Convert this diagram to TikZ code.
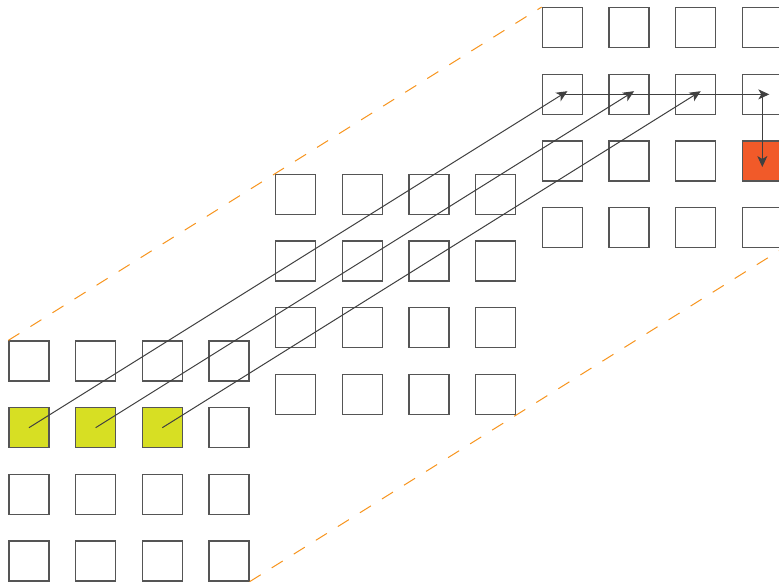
\documentclass[tikz,border=0pt]{standalone}
\usetikzlibrary{arrows.meta}
\definecolor{CellGray}{RGB}{85,85,85}
\definecolor{ArrowGray}{RGB}{64,64,64}
\definecolor{KernelLime}{RGB}{215,223,35}
\definecolor{OutOrange}{RGB}{241,90,41}
\definecolor{GuideOrange}{RGB}{247,148,29}

\begin{document}
\begin{tikzpicture}[
				x=1pt,y=-1pt,
				cell/.style={
					draw=CellGray,
					line width=1.3pt,
					minimum size=40pt,
					inner sep=0pt
				},
				paint I-1-0/.style={fill=KernelLime},
				paint I-1-1/.style={fill=KernelLime},
				paint I-1-2/.style={fill=KernelLime},
				paint O-2-3/.style={fill=OutOrange},
				guide/.style={
					draw=GuideOrange,
					line width=1pt,
					dash pattern=on 13pt off 13pt
				},
				link/.style={
					draw=ArrowGray,
					line width=1pt,
					-{Stealth[length=11pt,width=10pt,inset=3pt]},
					shorten >=-6pt
				}
				]
				
				\useasboundingbox (0,0) rectangle (779,585);
				
				% input, hidden and output grids
				\foreach \r in {0,...,3}
				\foreach \c in {0,...,3}
				{
					\node[cell, paint I-\r-\c/.try] (I-\r-\c) at (29+66.67*\c, 361+66.67*\r) {};
					\node[cell, paint H-\r-\c/.try] (H-\r-\c) at (295.7+66.67*\c, 194.3+66.67*\r) {};
					\node[cell, paint O-\r-\c/.try] (O-\r-\c) at (562.3+66.67*\c, 27.7+66.67*\r) {};
				}
				
				\draw[guide] (I-0-0.north west) -- (O-0-0.north west);
				\draw[guide] (I-3-3.south east) -- (O-3-3.south east);
				
				\foreach \c in {0,1,2}
				\draw[link] (I-1-\c.center) -- (O-1-\c.center);
				
				\draw[link, shorten >=-7pt] (O-1-0.center) -- (O-1-3.center);
				\draw[link] (O-1-3.center) -- (O-2-3.center);
				
\end{tikzpicture}
\end{document}
